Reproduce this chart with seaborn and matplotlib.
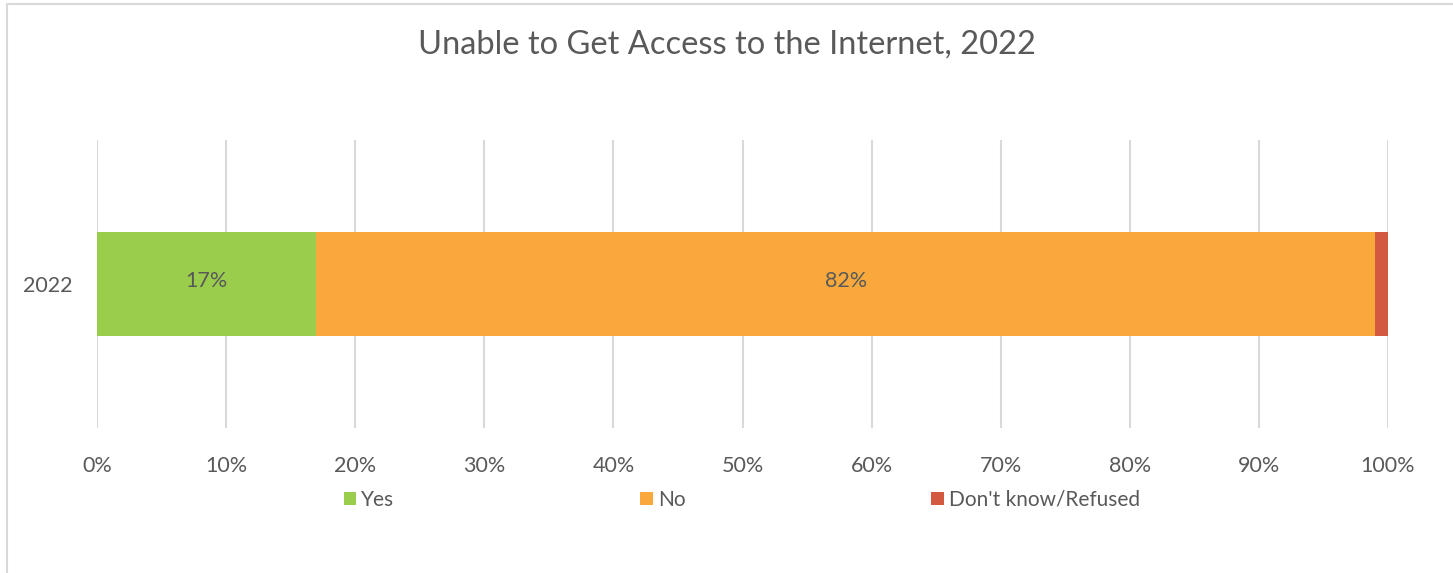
#!/usr/bin/env python3
"""Unable to Get Access to the Internet, 2022 — stacked horizontal bar."""

import matplotlib

matplotlib.use("Agg")

import matplotlib.pyplot as plt
import pandas as pd
import seaborn as sns
from matplotlib.patches import Patch, Rectangle

# data
years = ["2022"]
responses = ["Yes", "No", "Don't know/Refused"]
shares = [17, 82, 1]
colors = ["#9BCD4C", "#F9A93C", "#D35A41"]
x_ticks = [0, 10, 20, 30, 40, 50, 60, 70, 80, 90, 100]

TEXT = "#595959"
GRID = "#D9D9D9"


def main() -> None:
    sns.set_theme(style="white")
    plt.rcParams["font.family"] = ["Lato", "DejaVu Sans"]

    df = pd.DataFrame({"year": years * len(responses),
                       "response": responses,
                       "share": shares})
    df["cum"] = df["share"].cumsum()

    fig = plt.figure(figsize=(14.53, 5.73), dpi=100)
    ax = fig.add_axes([97 / 1453, 1 - 428 / 573, (1388 - 97) / 1453, (428 - 140) / 573])

    # stacked: draw cumulative totals from the top segment down
    for i in reversed(range(len(responses))):
        sns.barplot(data=df.iloc[[i]], x="cum", y="year", color=colors[i],
                    width=0.36, orient="h", ax=ax, saturation=1,
                    zorder=3, linewidth=0)

    # data labels for the two big segments
    left = 0
    for resp, val in zip(responses, shares):
        if val >= 5:
            ax.text(left + val / 2, -0.01, f"{val}%", ha="center", va="center",
                    fontsize=15.5, color=TEXT, zorder=4)
        left += val

    ax.set_xlim(0, 100)
    ax.set_ylim(0.5, -0.5)
    ax.set_xticks(x_ticks)
    ax.set_xticklabels([f"{t}%" for t in x_ticks])
    ax.grid(axis="x", color=GRID, linewidth=1.5, zorder=0)
    ax.grid(axis="y", visible=False)
    ax.set_xlabel("")
    ax.set_ylabel("")
    for s in ax.spines.values():
        s.set_visible(False)
    ax.tick_params(axis="x", length=0, pad=20, labelsize=15.5, labelcolor=TEXT)
    ax.tick_params(axis="y", length=0, pad=18, labelsize=15.5, labelcolor=TEXT)

    fig.suptitle("Unable to Get Access to the Internet, 2022", y=1 - 45 / 573,
                 va="center", fontsize=23.5, color=TEXT)

    handles = [Patch(facecolor=c, edgecolor="none") for c in colors]
    fig.legend(handles, responses, loc="center", ncol=3,
               bbox_to_anchor=(742 / 1453, 1 - 500 / 573), frameon=False,
               fontsize=15, labelcolor=TEXT, handlelength=0.6,
               handleheight=0.6, handletextpad=0.25, columnspacing=11.8)

    fig.patches.append(Rectangle((7 / 1453, -0.05), 1.2, 1 - 4 / 573 + 0.05,
                                 transform=fig.transFigure, fill=False,
                                 edgecolor=GRID, linewidth=1.5))

    fig.savefig("out.png", dpi=100)
    plt.close(fig)


if __name__ == "__main__":
    main()
